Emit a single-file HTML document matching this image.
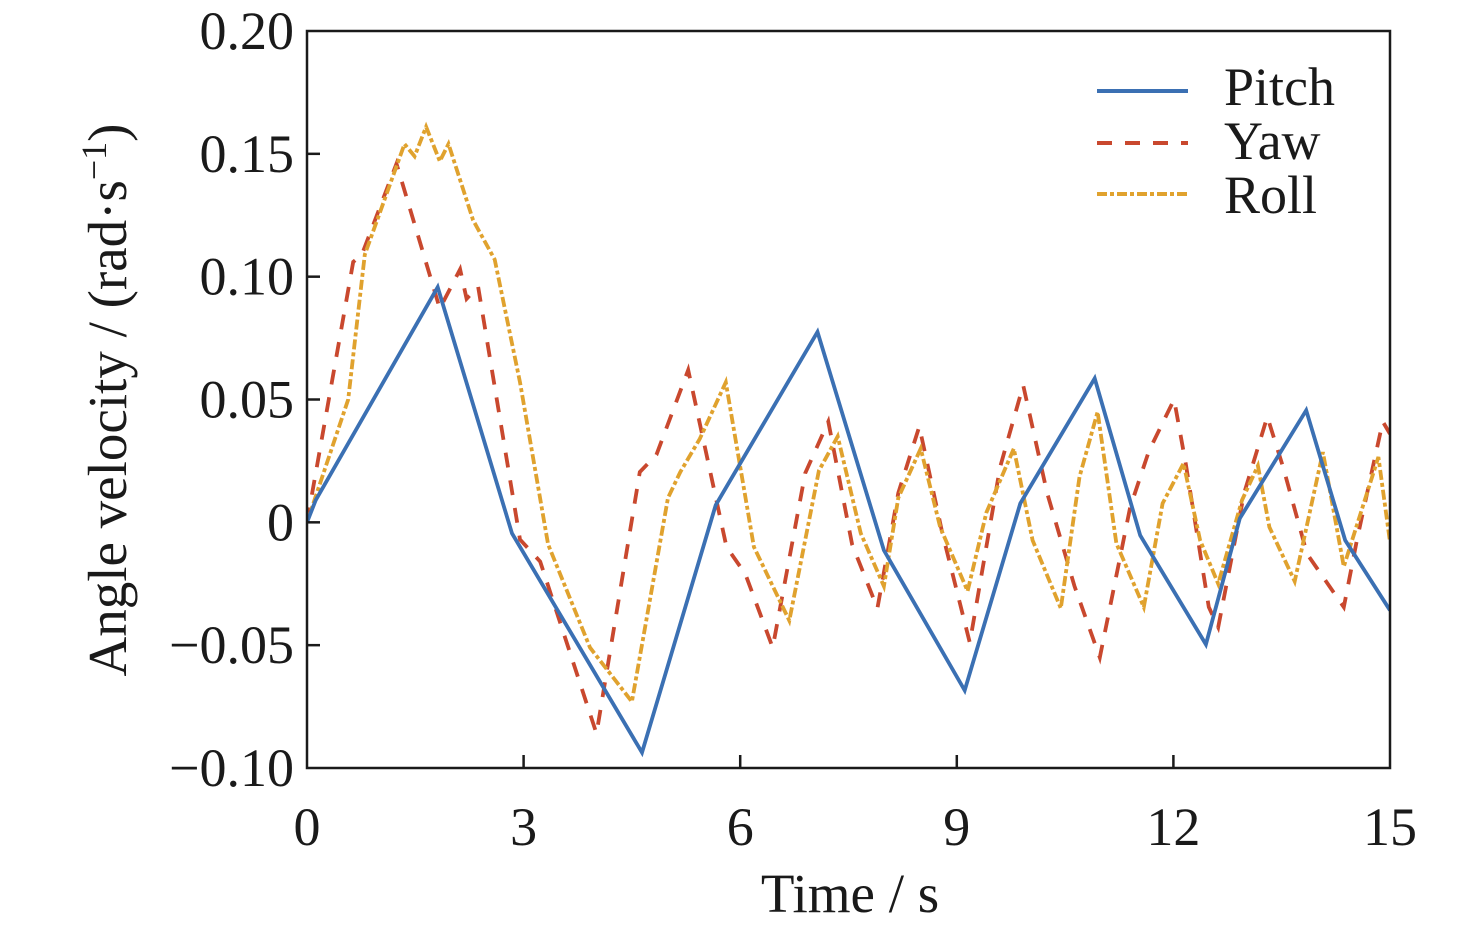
<!DOCTYPE html>
<html><head><meta charset="utf-8">
<style>
html,body{margin:0;padding:0;background:#fff;}
svg{display:block;}
text{font-family:"Liberation Serif",serif;fill:#1a1a1a;}
</style></head>
<body>
<svg id="chart" width="1476" height="929" viewBox="0 0 1476 929">
<g id="plot"></g>
<g id="axes"></g>
<g id="legend">
  <g>
    <line x1="1097" y1="91" x2="1188" y2="91" stroke="#3b70b3" stroke-width="4"/>
    <text x="1224" y="105" font-size="54">Pitch</text>
  </g>
  <g>
    <line x1="1097" y1="143" x2="1188" y2="143" stroke="#c9482e" stroke-width="4" stroke-dasharray="15,13"/>
    <text x="1224" y="159" font-size="54">Yaw</text>
  </g>
  <g>
    <line x1="1097" y1="194" x2="1188" y2="194" stroke="#e0a22e" stroke-width="4" stroke-dasharray="10,3,4,3"/>
    <text x="1224" y="213" font-size="54">Roll</text>
  </g>
</g>
</svg>
<script>
const xTicks = [0, 3, 6, 9, 12, 15];
const xTickLabels = ["0", "3", "6", "9", "12", "15"];
const yTicks = [-0.10, -0.05, 0, 0.05, 0.10, 0.15, 0.20];
const yTickLabels = ["\u22120.10", "\u22120.05", "0", "0.05", "0.10", "0.15", "0.20"];

const pitchT = [0, 0.12, 1.81, 2.84, 4.64, 5.66, 7.07, 7.99, 9.11, 9.88, 10.91, 11.54, 12.45, 12.92, 13.84, 14.38, 15];
const pitchV = [0, 0.009, 0.0957, -0.0045, -0.0937, 0.007, 0.0775, -0.0114, -0.0684, 0.0077, 0.0586, -0.0053, -0.0497, 0.0016, 0.0456, -0.0073, -0.0358];

const yawT = [0, 0.64, 0.76, 1.24, 1.84, 2.12, 2.21, 2.37, 2.95, 3.23, 4.01, 4.61, 4.84, 5.28, 5.81, 6.07, 6.45, 6.90, 7.22, 7.55, 7.90, 8.19, 8.48, 8.80, 9.18, 9.60, 9.92, 10.25, 10.63, 10.98, 11.40, 11.66, 12.01, 12.17, 12.49, 12.62, 12.98, 13.30, 13.52, 13.85, 14.36, 14.55, 14.9, 15];
const yawV = [0, 0.106, 0.109, 0.146, 0.087, 0.103, 0.091, 0.096, -0.007, -0.016, -0.086, 0.0205, 0.0275, 0.062, -0.010, -0.021, -0.051, 0.020, 0.041, -0.009, -0.035, 0.012, 0.039, -0.0045, -0.049, 0.0225, 0.0558, 0.012, -0.026, -0.055, 0.006, 0.029, 0.050, 0.024, -0.0345, -0.0427, 0.012, 0.043, 0.0225, -0.0128, -0.0345, -0.006, 0.041, 0.036];

const rollT = [0, 0.57, 0.80, 1.35, 1.49, 1.65, 1.84, 1.96, 2.30, 2.60, 2.95, 3.34, 3.92, 4.50, 5.00, 5.17, 5.44, 5.80, 6.19, 6.68, 7.09, 7.35, 7.67, 7.99, 8.19, 8.50, 8.77, 9.15, 9.41, 9.79, 10.05, 10.44, 10.70, 10.95, 11.21, 11.59, 11.85, 12.14, 12.37, 12.62, 12.95, 13.17, 13.33, 13.68, 14.07, 14.36, 14.84, 15];
const rollV = [0, 0.050, 0.109, 0.154, 0.149, 0.161, 0.147, 0.154, 0.123, 0.107, 0.057, -0.009, -0.051, -0.073, 0.010, 0.0205, 0.034, 0.057, -0.010, -0.040, 0.021, 0.035, -0.0045, -0.026, 0.010, 0.030, -0.002, -0.028, 0.004, 0.030, -0.0073, -0.035, 0.0185, 0.045, -0.0086, -0.0345, 0.0077, 0.024, -0.0073, -0.025, 0.009, 0.023, -0.002, -0.024, 0.0286, -0.018, 0.0266, -0.008];

const L = 307, R = 1390, T = 31, B = 768;
const xMin = 0, xMax = 15, yMin = -0.10, yMax = 0.20;
function xs(t) { return L + (t - xMin) / (xMax - xMin) * (R - L); }
function ys(v) { return B - (v - yMin) / (yMax - yMin) * (B - T); }

const NS = "http://www.w3.org/2000/svg";
const plot = document.getElementById('plot');
const axes = document.getElementById('axes');

function mk(tag, attrs, parent) {
  const e = document.createElementNS(NS, tag);
  for (const k in attrs) e.setAttribute(k, attrs[k]);
  parent.appendChild(e);
  return e;
}

function drawSeries(ts, vs, color, dash, name) {
  const pts = ts.map((t, i) => xs(t).toFixed(1) + ',' + ys(vs[i]).toFixed(1)).join(' ');
  const pl = mk('polyline', {points: pts, fill: 'none', stroke: color, 'stroke-width': 3.8, 'stroke-linejoin': 'miter'}, plot);
  if (dash) pl.setAttribute('stroke-dasharray', dash);
  
  
}
const clip = mk('clipPath', {id: 'clipPlot'}, document.getElementById('chart'));
mk('rect', {x: L, y: T - 5, width: R - L, height: B - T + 10}, clip);
plot.setAttribute('clip-path', 'url(#clipPlot)');

drawSeries(yawT, yawV, '#c9482e', '15,13', 'yaw-line');
drawSeries(rollT, rollV, '#e0a22e', '10,3,4,3', 'roll-line');
drawSeries(pitchT, pitchV, '#3b70b3', null, 'pitch-line');

const fr = mk('rect', {x: L, y: T, width: R - L, height: B - T, fill: 'none', stroke: '#1a1a1a', 'stroke-width': 2.5}, axes);



xTicks.forEach((t, i) => {
  const x = xs(t);
  if (i > 0 && i < xTicks.length - 1) {
    const tk = mk('line', {x1: x, y1: B, x2: x, y2: B - 13, stroke: '#1a1a1a', 'stroke-width': 2.5}, axes);
    
    
  }
  const tx = mk('text', {x: x, y: 845, 'font-size': 54, 'text-anchor': 'middle'}, axes);
  tx.textContent = xTickLabels[i];
  
  
});
yTicks.forEach((v, i) => {
  const y = ys(v);
  if (i > 0 && i < yTicks.length - 1) {
    const tk = mk('line', {x1: L, y1: y, x2: L + 13, y2: y, stroke: '#1a1a1a', 'stroke-width': 2.5}, axes);
    
    
  }
  const tx = mk('text', {x: 294, y: y + 18, 'font-size': 54, 'text-anchor': 'end'}, axes);
  tx.textContent = yTickLabels[i];
  
  
});

const xt = mk('text', {x: 850, y: 912, 'font-size': 55, 'text-anchor': 'middle'}, axes);
xt.textContent = 'Time / s';



const yt = mk('text', {x: 0, y: 0, 'font-size': 55, 'text-anchor': 'middle', transform: 'translate(126,400) rotate(-90)'}, axes);


yt.appendChild(document.createTextNode('Angle velocity / (rad\u00B7s'));
const sup = mk('tspan', {'font-size': 36, dy: -20}, yt);
sup.textContent = '\u22121';
const close = mk('tspan', {'font-size': 55, dy: 20}, yt);
close.textContent = ')';
</script>
</body></html>
